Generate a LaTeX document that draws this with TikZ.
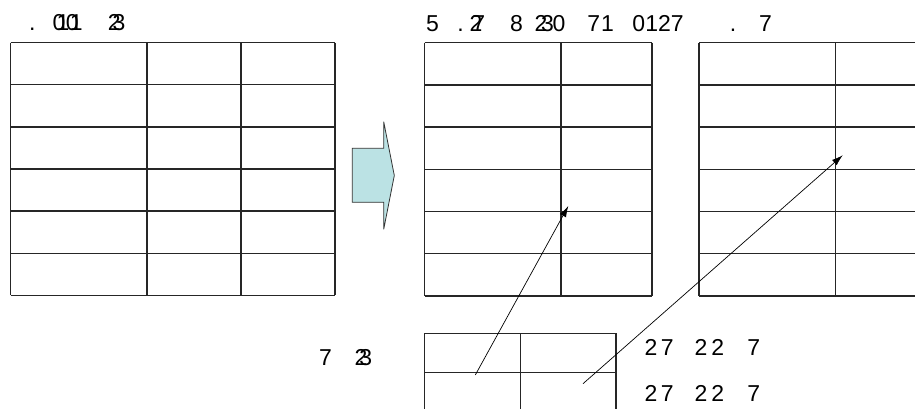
\documentclass[tikz,border=0pt]{standalone}
\usepackage{fontspec}
\setmainfont{Liberation Sans}
\usetikzlibrary{arrows.meta}
\definecolor{arrowfill}{RGB}{187,226,228}

\begin{document}
\begin{tikzpicture}[x=1pt, y=-1pt, >={Latex[length=11pt,width=7pt]},
  every node/.style={font=\fontsize{23}{27}\selectfont, inner sep=0pt, anchor=base west},
  gridline/.style={line width=1.3pt, draw=black!85},
  link/.style={->, line width=0.7pt}]
  \useasboundingbox (0,0) rectangle (915,409);

  % source table (6 rows, 3 columns)
  \foreach \r in {0,...,6} \draw[gridline] (10.5,42.7+42.1*\r) -- (335,42.7+42.1*\r);
  \foreach \c in {10.5,147,241,335} \draw[gridline] (\c,42.7) -- (\c,295.3);

  % block arrow
  \draw[fill=arrowfill, draw=black!80, line width=0.8pt]
    (352.3,148.3) -- (383.7,148.3) -- (383.7,121.7) -- (394.3,175.5)
    -- (383.7,229.3) -- (383.7,202.3) -- (352.3,202.3) -- cycle;

  % target tables
  \foreach \r in {0,...,6} \draw[gridline] (424.7,42.7+42.2*\r) -- (652,42.7+42.2*\r);
  \foreach \c in {424.7,561,652} \draw[gridline] (\c,42.7) -- (\c,296);
  \foreach \r in {0,...,6} \draw[gridline] (699,42.7+42.2*\r) -- (915,42.7+42.2*\r);
  \foreach \c in {699,835.3} \draw[gridline] (\c,42.7) -- (\c,296);

  % key table
  \draw[gridline] (424.7,409) |- (616,333.7) -- (616,409);
  \draw[gridline] (424.7,372.3) -- (616,372.3);
  \draw[gridline] (520.3,333.7) -- (520.3,409);

  % texts
  \node (srctitle) at (29,30.5) {.\hspace{17pt}0\kern-8.8pt 1\kern-3.4pt 0\kern-8.8pt 1\hspace{25.1pt}2\kern-8pt 3};
  \node (dsttitle) at (426,31.5) {5\hspace{18.5pt}.\hspace{5.7pt}2\kern-9.9pt 7\hspace{24.8pt}8\hspace{11.7pt}2\kern-6.3pt 3\kern-1.3pt 0\hspace{22.1pt}7\hspace{0.9pt}1\hspace{18.6pt}0127\hspace{46.2pt}.\hspace{22.8pt}7};
  \node (keylabel) at (319,365) {7\hspace{22.6pt}2\kern-8pt 3};
  \node (notea) at (644.4,355) {2\hspace{3.5pt}7\hspace{20.9pt}2\hspace{3.9pt}2\hspace{23.4pt}7};
  \node (noteb) at (644.4,401.5) {2\hspace{3.5pt}7\hspace{20.9pt}2\hspace{3.9pt}2\hspace{23.4pt}7};

  % links from key cells to target cells
  \coordinate (keyA) at (475.3,375);
  \coordinate (keyB) at (583,383.7);
  \coordinate (cellA) at (568.3,206);
  \coordinate (cellB) at (842.7,155.3);
  \draw[link] (keyA) -- (cellA);
  \draw[link] (keyB) -- (cellB);
\end{tikzpicture}
\end{document}
